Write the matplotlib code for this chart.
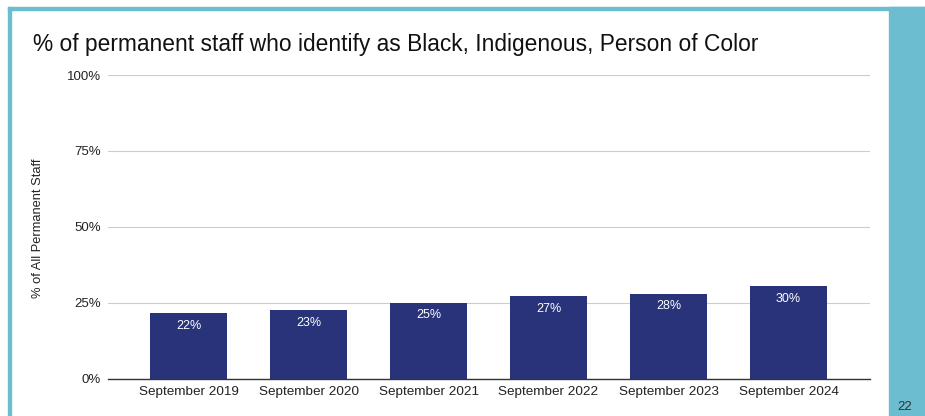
import matplotlib.pyplot as plt
from matplotlib.patches import Rectangle

plt.rcParams['font.family'] = ['Liberation Sans', 'DejaVu Sans']

categories = ['September 2019', 'September 2020', 'September 2021',
              'September 2022', 'September 2023', 'September 2024']
values = [21.5, 22.5, 25.0, 27.1, 27.9, 30.4]
labels = ['22%', '23%', '25%', '27%', '28%', '30%']
yticks = [0, 25, 50, 75, 100]
ytick_labels = ['0%', '25%', '50%', '75%', '100%']

W, H = 925, 416


def main():
    fig = plt.figure(figsize=(W / 100, H / 100), dpi=100)
    fig.patch.set_facecolor('white')

    teal = '#6cbdcf'
    # slide frame: top and left border, right side panel
    fig.patches.append(Rectangle((8 / W, 0), 3 / W, (H - 7) / H,
                                 transform=fig.transFigure, color=teal, zorder=0))
    fig.patches.append(Rectangle((8 / W, (H - 10) / H), (W - 8) / W, 3 / H,
                                 transform=fig.transFigure, color=teal, zorder=0))
    fig.patches.append(Rectangle((889 / W, 0), (W - 889) / W, (H - 7) / H,
                                 transform=fig.transFigure, color=teal, zorder=0))
    fig.text(897 / W, 1 - 407 / H, '22', fontsize=9.5, color='#333333', va='center')

    ax = fig.add_axes([108 / W, 37.3 / H, 762 / W, 303.7 / H])
    x = range(len(categories))
    bars = ax.bar(x, values, width=0.64, color='#29337a', zorder=3)
    for b, lab in zip(bars, labels):
        ax.annotate(lab, (b.get_x() + b.get_width() / 2, b.get_height()),
                    xytext=(0, -9), textcoords='offset points',
                    ha='center', va='center', color='white', fontsize=9)

    ax.set_xlim(-0.671, 5.679)
    ax.set_ylim(0, 100)
    ax.set_xticks(list(x))
    ax.set_xticklabels(categories, fontsize=9.7, color='#222222')
    ax.set_yticks(yticks)
    ax.set_yticklabels(ytick_labels, fontsize=9.5, color='#222222')
    ax.tick_params(length=0)
    ax.tick_params(axis='y', pad=5)
    ax.tick_params(axis='x', pad=5)
    ax.grid(axis='y', color='#cccccc', linewidth=0.8, zorder=0)
    for s in ['top', 'right', 'left']:
        ax.spines[s].set_visible(False)
    ax.spines['bottom'].set_color('#333333')
    ax.spines['bottom'].set_linewidth(1.0)
    ax.spines['bottom'].set_zorder(4)

    fig.text(38 / W, 1 - 228 / H, '% of All Permanent Staff', rotation=90,
             fontsize=9.3, color='#222222', ha='center', va='center')
    fig.text(33 / W, 1 - 44 / H,
             '% of permanent staff who identify as Black, Indigenous, Person of Color',
             fontsize=16.4, color='#111111', va='center', ha='left')

    fig.savefig('out.png', dpi=100)


if __name__ == '__main__':
    main()
